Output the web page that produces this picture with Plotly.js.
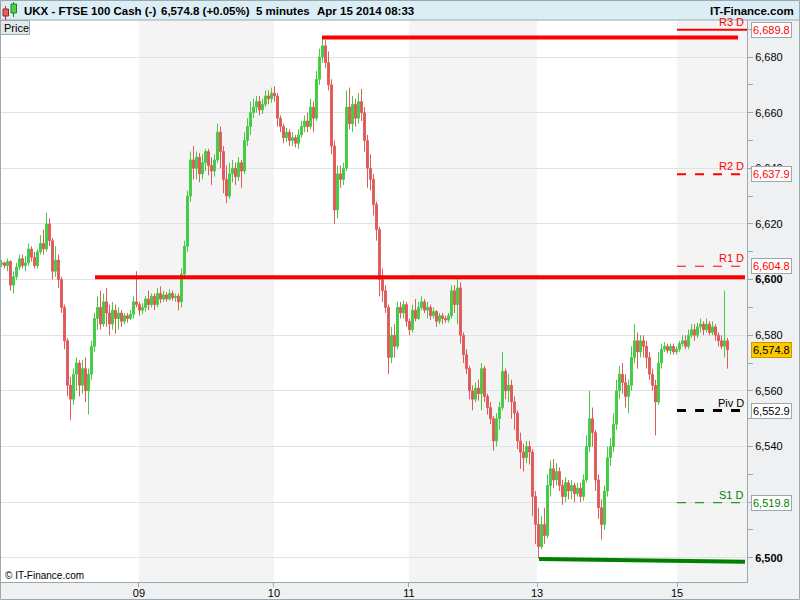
<!DOCTYPE html>
<html><head><meta charset="utf-8">
<script src="https://cdn.plot.ly/plotly-3.0.1.min.js"></script>
<style>html,body{margin:0;padding:0;background:#fff}#chart{width:800px;height:600px}</style>
</head><body><div id="chart"></div>
<script>
const openP = [6605.5,6606,6605,6606.5,6598,6601,6604.5,6607.5,6605,6606,
6611,6608,6605,6610,6613,6611,6620,6614,6603,6607,
6600,6590,6578,6562,6557,6566,6570,6562,6568,6560,
6566,6576,6586,6590,6584,6592,6588,6584,6589,6586,
6588,6585,6587,6586,6587.5,6592,6591,6589,6590,6593,
6591,6594,6591,6595,6593,6594.5,6593,6595,6593.5,6594,
6592,6602,6612,6630,6643,6640,6644,6638,6642,6646,
6641,6639,6643,6653,6646,6636,6630,6638,6640,6637,
6642,6639,6650,6655,6660,6662,6664,6661,6663,6666,
6665,6667,6666,6658,6655,6651,6653,6650,6651,6649,
6652,6655,6657,6655,6662,6658,6672,6680,6684,6678,
6670,6648,6625,6638,6636,6640,6662,6656,6663,6658,
6664,6660,6650,6640,6636,6627,6618,6600,6596,6590,
6572,6580,6576,6590,6588,6591,6585,6582,6589,6586,
6590,6592,6589,6590,6587,6588.5,6585,6587,6586,6585.5,
6587,6596,6591,6597,6580,6573,6568,6560,6557,6561,
6559,6568,6558,6554,6550,6542,6550,6554,6567,6560,
6562,6556,6552,6542,6538,6536,6540,6538,6522,6512,
6504,6512,6508,6526,6532,6528,6531,6526,6522,6527,
6524,6526,6523,6525,6522,6528,6540,6550,6545,6528,
6518,6512,6524,6536,6540,6548,6560,6566,6563,6558,
6562,6572,6578,6574,6578,6576,6572,6566,6562,6556,
6570,6575,6576,6574.5,6576,6574,6575,6577,6578,6576,
6580,6582,6580,6583,6584,6582,6584,6581,6583,6580,
6578,6576,6578];
const highP = [6607,6606.5,6607.5,6607,6603,6606,6609,6609,6608.5,6613,
6612,6610,6611,6616,6618,6624,6622,6615,6612,6609,
6601,6591,6579,6565,6568,6572,6571,6571,6572,6568,
6578,6588,6594,6596,6595,6597,6591,6592,6591,6590,
6589,6588,6588,6589,6594,6603,6592,6591.5,6594,6596,
6595,6595,6597,6597.5,6596,6595.5,6596.5,6596,6595,6595,
6604,6614,6632,6646,6648,6646,6645.5,6645,6647,6647,
6644,6645,6656,6655,6648,6641,6642,6643,6642,6644,
6643,6653,6658,6664,6665,6666,6666,6665,6668,6668,
6669,6669.5,6667,6659,6656,6654.5,6654,6653,6652,6654,
6657,6659,6660,6665,6664,6675,6683,6687,6686,6682,
6672,6650,6641,6641,6642,6668,6669,6666,6665,6667,
6668.5,6662,6652,6645,6638,6628,6619,6604,6598,6591,
6583,6584,6592,6592,6592.5,6592,6586,6591,6593,6592,
6594,6593,6592,6591,6590,6589,6588,6588,6587,6588,
6598,6598,6600.5,6599,6581,6575,6569,6562,6563,6564,
6570,6569,6559,6556,6551,6552,6556,6574,6568,6566,
6564,6558,6553,6545,6541,6542,6542,6539,6524,6518,
6515,6518,6530,6535,6535.5,6534,6532.5,6528,6529,6528,
6528,6527,6527,6527,6530,6544,6560,6554,6546,6530,
6521,6526,6540,6543,6552,6564,6569,6570,6566,6564,
6576,6584,6581,6580,6580,6578,6574,6568,6564,6574,
6577,6577.5,6577,6577,6577,6576,6578,6580,6580,6582,
6584,6584,6584.5,6586,6585,6586,6585,6585,6584,6581,
6580,6596,6579];
const lowP = [6604.5,6604,6603,6596,6595,6600,6603.5,6604,6603,6605,
6606.5,6604,6604,6609,6609,6610,6612,6600,6601,6597,
6588,6575,6558,6549.5,6555,6560,6558,6559,6556,6551.5,
6564,6574,6582,6582,6583,6583,6580,6582,6580.5,6582,
6583,6584,6584.5,6585.5,6586,6590,6587,6587.5,6588.5,6589,
6590,6589,6590,6591.5,6592,6592,6592.5,6592.5,6592,6589,
6590,6601,6610,6628,6636,6636,6635,6636,6639,6637.5,
6634,6637,6642,6640,6631,6627.5,6629,6635,6634,6635.5,
6633,6638,6648,6652,6658,6660,6659,6659.5,6662,6663,
6663.5,6664,6655,6653,6649,6649.5,6648,6648,6647.5,6647,
6651,6653,6653,6654,6653,6657,6670,6678,6676,6668,
6645,6620,6622,6633,6634,6639,6654,6653,6655,6656,
6657,6646,6633,6632,6623,6614,6594,6592,6588,6566,
6570,6572,6575,6586,6586,6583,6580,6581,6585,6585.5,
6589,6588,6586,6585.5,6586,6583,6584,6584,6584.5,6584.5,
6586,6588,6584,6577,6570,6566,6557,6553,6556,6556.5,
6553,6556,6551.5,6548,6538.5,6540,6546,6553,6557,6556,
6550,6546,6539,6532,6531,6534,6533.5,6515,6505,6499.7,
6503,6505,6507,6522,6525,6526,6524,6519,6520,6521,
6521,6520,6522,6520,6520.5,6527,6538,6540,6524,6514,
6506.5,6510,6522,6533,6538,6546,6557,6559,6554,6552,
6560,6570,6568,6572,6572,6568,6564,6560,6544,6555,
6568,6574,6573.5,6573,6573,6573,6574,6576,6575,6575,
6579,6578,6579,6581,6580,6581,6580,6580,6578,6576,
6575,6572,6568];
const closeP = [6606,6605,6606.5,6598,6601,6604.5,6607.5,6605,6606,6611,
6608,6605,6610,6613,6611,6620,6614,6603,6607,6600,
6590,6578,6562,6557,6566,6570,6562,6568,6560,6566,
6576,6586,6590,6584,6592,6588,6584,6589,6586,6588,
6585,6587,6586,6587.5,6592,6591,6589,6590,6593,6591,
6594,6591,6595,6593,6594.5,6593,6595,6593.5,6594,6592,
6602,6612,6630,6643,6640,6644,6638,6642,6646,6641,
6639,6643,6653,6646,6636,6630,6638,6640,6637,6642,
6639,6650,6655,6660,6662,6664,6661,6663,6666,6665,
6667,6666,6658,6655,6651,6653,6650,6651,6649,6652,
6655,6657,6655,6662,6658,6672,6680,6684,6678,6670,
6648,6625,6638,6636,6640,6662,6656,6663,6658,6664,
6660,6650,6640,6636,6627,6618,6600,6596,6590,6572,
6580,6576,6590,6588,6591,6585,6582,6589,6586,6590,
6592,6589,6590,6587,6588.5,6585,6587,6586,6585.5,6587,
6596,6591,6597,6580,6573,6568,6560,6557,6561,6559,
6568,6558,6554,6550,6542,6550,6554,6567,6560,6562,
6556,6552,6542,6538,6536,6540,6538,6522,6512,6504,
6512,6508,6526,6532,6528,6531,6526,6522,6527,6524,
6526,6523,6525,6522,6528,6540,6550,6545,6528,6518,
6512,6524,6536,6540,6548,6560,6566,6563,6558,6562,
6572,6578,6574,6578,6576,6572,6566,6562,6556,6570,
6575,6576,6574.5,6576,6574,6575,6577,6578,6576,6580,
6582,6580,6583,6584,6582,6584,6581,6583,6580,6578,
6576,6578,6574.8];

// day separators (bar positions) and labels
const dayTicks = [45.83, 90.83, 135.83, 178.5, 225.17];
const dayLabels = ['09', '10', '11', '13', '15'];
const shadedDays = [[45.83, 90.83], [135.83, 178.5], [225.17, 248.5]];

// y-axis ticks
const yTickVals = [6500,6520,6540,6560,6580,6600,6620,6640,6660,6680];
const yTickText = ['<b>6,500</b>','6,520','6,540','6,560','6,580','<b>6,600</b>','6,620','6,640','6,660','6,680'];
const yMinorVals = [6490,6510,6530,6550,6570,6590,6610,6630,6650,6670,6690];

// daily pivot levels
const pivNames = ['R3 D', 'R2 D', 'R1 D', 'Piv D', 'S1 D'];
const pivValues = [6689.8, 6637.9, 6604.8, 6552.9, 6519.8];
const pivColors = ['#ff0000', '#ff0000', '#ff0000', '#000000', '#008000'];
const pivDash = ['solid', 'dash', 'dash', 'dash', 'dash'];
const pivWidth = [2, 2, 1, 3, 1];
const pivEnd = [248.5, 246.8, 247.8, 246.8, 248.3];
const pivStart = 225.17;

// drawn trend lines
const trendX0 = [31.17, 106.83, 179.17];
const trendX1 = [247.83, 245.5, 247.83];
const trendY0 = [6600.8, 6687.0, 6499.6];
const trendY1 = [6600.8, 6687.0, 6498.6];
const trendColor = ['#ff0000', '#ff0000', '#008000'];

const lastPrice = 6574.8;

const idx = closeP.map((_, i) => i);

// layout helpers: page pixels -> paper coords (plot area x 1..747, y 20..582)
const PL = 1, PR = 747, PT = 20, PB = 582;
const px = v => (v - PL) / (PR - PL);
const py = v => (PB - v) / (PB - PT);

const trace = {
  type: 'candlestick', x: idx, open: openP, high: highP, low: lowP, close: closeP,
  increasing: {line: {color: '#44cc44', width: 1}, fillcolor: '#44cc44'},
  decreasing: {line: {color: '#e05c5c', width: 1}, fillcolor: '#e05c5c'},
  whiskerwidth: 0, hoverinfo: 'skip', showlegend: false
};

const shapes = [];
shadedDays.forEach(d => shapes.push({type: 'rect', xref: 'x', yref: 'paper', x0: d[0], x1: d[1], y0: 0, y1: 1,
  fillcolor: '#f4f4f4', line: {width: 0}, layer: 'below'}));
pivValues.forEach((v, i) => shapes.push({type: 'line', xref: 'x', yref: 'y', x0: pivStart, x1: pivEnd[i], y0: v, y1: v,
  line: {color: pivColors[i], width: pivWidth[i], dash: pivDash[i]}}));
trendX0.forEach((x0, i) => shapes.push({type: 'line', xref: 'x', yref: 'y', x0: x0, x1: trendX1[i], y0: trendY0[i], y1: trendY1[i],
  line: {color: trendColor[i], width: 4}}));
// header band
shapes.push({type: 'rect', xref: 'paper', yref: 'paper', x0: px(0), x1: px(800), y0: py(0), y1: py(20),
  fillcolor: '#dbedf5', line: {width: 0}, layer: 'above'});
shapes.push({type: 'line', xref: 'paper', yref: 'paper', x0: px(0), x1: px(800), y0: py(20), y1: py(20),
  line: {color: '#9aa8b0', width: 1}});
// header icon
shapes.push({type: 'line', xref: 'paper', yref: 'paper', x0: px(5.5), x1: px(5.5), y0: py(6), y1: py(20), line: {color: '#b03030', width: 1}});
shapes.push({type: 'rect', xref: 'paper', yref: 'paper', x0: px(3), x1: px(8.5), y0: py(9), y1: py(16), fillcolor: '#e06464', line: {color: '#a02020', width: 1}});
shapes.push({type: 'line', xref: 'paper', yref: 'paper', x0: px(13.5), x1: px(13.5), y0: py(2), y1: py(17), line: {color: '#208020', width: 1}});
shapes.push({type: 'rect', xref: 'paper', yref: 'paper', x0: px(11), x1: px(16.5), y0: py(4), y1: py(13), fillcolor: '#4ccf4c', line: {color: '#208020', width: 1}});
// "Price" tab
shapes.push({type: 'rect', xref: 'paper', yref: 'paper', x0: px(0.5), x1: px(29.5), y0: py(20.5), y1: py(34.5),
  fillcolor: '#e2e9ec', line: {color: '#9aa8b0', width: 1}, layer: 'above'});
// outer frame
shapes.push({type: 'rect', xref: 'paper', yref: 'paper', x0: px(0.5), x1: px(799.5), y0: py(0.5), y1: py(599.5),
  fillcolor: 'rgba(0,0,0,0)', line: {color: '#9aa8b0', width: 1}, layer: 'above'});

const F = '"Liberation Sans", Arial, sans-serif';
const annotations = [];
const hdr = [['UKX - FTSE 100 Cash (-)', 22], ['6,574.8 (+0.05%)', 159], ['5 minutes', 254], ['Apr 15 2014 08:33', 315]];
hdr.forEach(h => annotations.push({xref: 'paper', yref: 'paper', x: px(h[1]), y: py(10.5), xanchor: 'left', yanchor: 'middle',
  text: '<b>' + h[0] + '</b>', showarrow: false, font: {family: F, size: 11.5, color: '#000'}}));
annotations.push({xref: 'paper', yref: 'paper', x: px(796), y: py(10.5), xanchor: 'right', yanchor: 'middle',
  text: '<b>IT-Finance.com</b>', showarrow: false, font: {family: F, size: 11.5, color: '#000'}});
annotations.push({xref: 'paper', yref: 'paper', x: px(2), y: py(27.5), xanchor: 'left', yanchor: 'middle',
  text: 'Price', showarrow: false, font: {family: F, size: 11, color: '#000'}});
annotations.push({xref: 'paper', yref: 'paper', x: px(3), y: py(575), xanchor: 'left', yanchor: 'middle',
  text: '© IT-Finance.com', showarrow: false, font: {family: F, size: 10, color: '#000'}});
pivValues.forEach((v, i) => {
  annotations.push({xref: 'paper', yref: 'y', x: px(746), y: v, xanchor: 'right', yanchor: 'bottom', yshift: 0,
    text: pivNames[i], showarrow: false, font: {family: F, size: 11, color: pivColors[i]}});
  annotations.push({xref: 'paper', yref: 'y', x: px(751), y: v, xanchor: 'left', yanchor: 'middle',
    text: v.toLocaleString('en-US', {minimumFractionDigits: 1}), showarrow: false,
    bgcolor: '#ffffff', bordercolor: '#9aa8b0', borderwidth: 1, borderpad: 1,
    font: {family: F, size: 11, color: pivColors[i]}});
});
annotations.push({xref: 'paper', yref: 'y', x: px(751), y: lastPrice, xanchor: 'left', yanchor: 'middle',
  text: lastPrice.toLocaleString('en-US', {minimumFractionDigits: 1}), showarrow: false,
  bgcolor: '#fcc800', bordercolor: '#c89a00', borderwidth: 1, borderpad: 1,
  font: {family: F, size: 11, color: '#000'}});

const layout = {
  width: 800, height: 600,
  margin: {l: PL, r: 800 - PR, t: PT, b: 600 - PB, pad: 0},
  paper_bgcolor: '#eef0f2', plot_bgcolor: '#ffffff',
  showlegend: false, hovermode: false, boxgap: 0.1,
  font: {family: F, size: 11, color: '#000'},
  xaxis: {
    type: 'linear', range: [-0.1667, 248.5], rangeslider: {visible: false},
    tickmode: 'array', tickvals: dayTicks, ticktext: dayLabels,
    ticks: 'outside', ticklen: 4, tickcolor: '#9aa8b0', ticklabelstandoff: -3,
    showgrid: false, zeroline: false,
    showline: true, linecolor: '#9aa8b0', linewidth: 1,
    tickfont: {family: F, size: 11, color: '#000'}, fixedrange: true
  },
  yaxis: {
    side: 'right', range: [6491.3, 6693.3],
    tickmode: 'array', tickvals: yTickVals, ticktext: yTickText,
    ticks: 'outside', ticklen: 5, tickcolor: '#9aa8b0',
    showgrid: true, gridcolor: '#e2e2e2', gridwidth: 1, zeroline: false,
    showline: true, linecolor: '#9aa8b0', linewidth: 1,
    minor: {tickmode: 'array', tickvals: yMinorVals, ticks: 'outside', ticklen: 5, tickcolor: '#9aa8b0', showgrid: false},
    tickfont: {family: F, size: 11, color: '#000'}, fixedrange: true
  },
  shapes: shapes, annotations: annotations
};

Plotly.newPlot('chart', [trace], layout, {displayModeBar: false, staticPlot: true});
</script></body></html>
